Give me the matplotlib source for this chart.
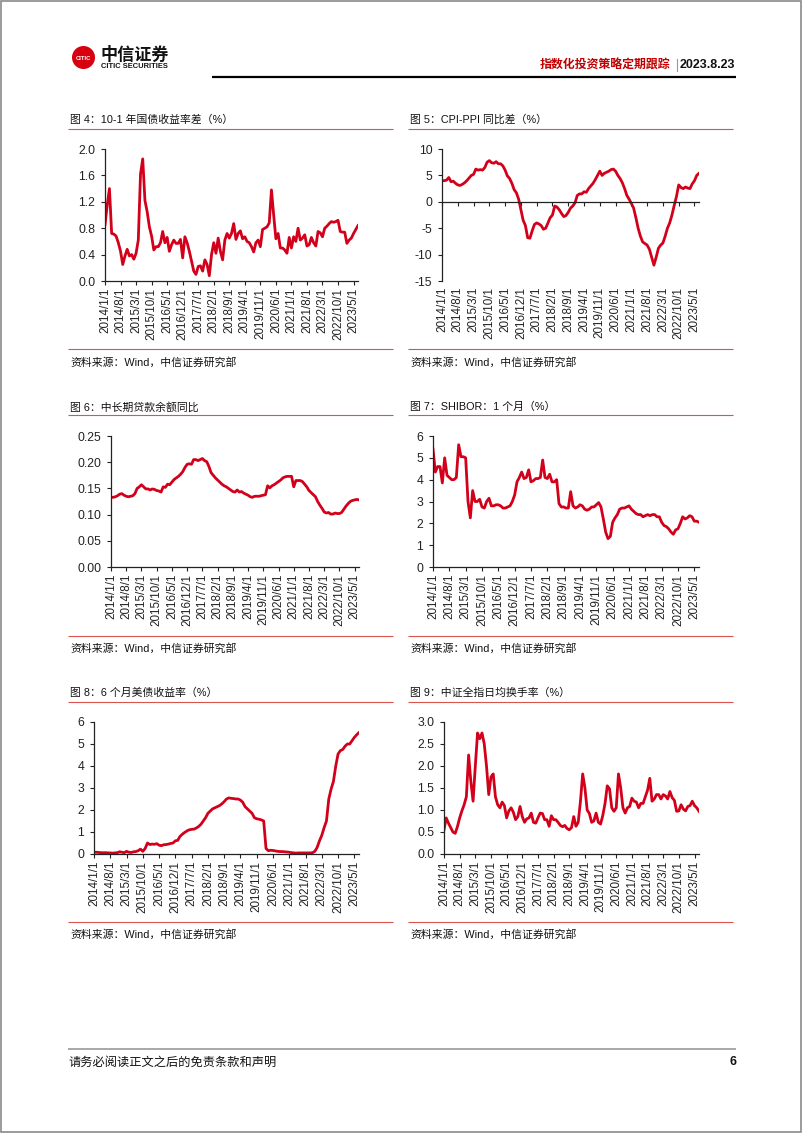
import matplotlib
matplotlib.use('Agg')
import matplotlib.pyplot as plt
from matplotlib.patches import Circle, Rectangle
import numpy as np

plt.rcParams['font.family'] = ['Liberation Sans', 'Noto Sans CJK SC', 'DejaVu Sans']

# ---------------- data ----------------
# monthly points, 2014/1 ... 2023/7 (115 months)
n_months = 115
tick_pos = list(range(0, 113, 7))
tick_labels = ['2014/1/1', '2014/8/1', '2015/3/1', '2015/10/1', '2016/5/1', '2016/12/1',
               '2017/7/1', '2018/2/1', '2018/9/1', '2019/4/1', '2019/11/1', '2020/6/1',
               '2021/1/1', '2021/8/1', '2022/3/1', '2022/10/1', '2023/5/1']

spread_10_1 = [
    0.85, 1.15, 1.40, 0.72, 0.71, 0.68, 0.58, 0.45, 0.25, 0.38, 0.48, 0.38,
    0.40, 0.33, 0.42, 0.62, 1.62, 1.85, 1.22, 1.05, 0.82, 0.68, 0.47, 0.52,
    0.52, 0.58, 0.75, 0.58, 0.66, 0.45, 0.55, 0.62, 0.57, 0.57, 0.63, 0.35,
    0.67, 0.58, 0.45, 0.30, 0.15, 0.10, 0.22, 0.23, 0.15, 0.32, 0.25, 0.08,
    0.40, 0.58, 0.42, 0.65, 0.45, 0.32, 0.62, 0.72, 0.65, 0.72, 0.87, 0.63,
    0.72, 0.76, 0.64, 0.67, 0.60, 0.58, 0.52, 0.44, 0.58, 0.62, 0.52, 0.78,
    0.80, 0.82, 0.88, 1.38, 1.00, 0.64, 0.72, 0.50, 0.50, 0.47, 0.42, 0.66,
    0.50, 0.67, 0.60, 0.80, 0.62, 0.65, 0.70, 0.53, 0.55, 0.66, 0.58, 0.53,
    0.75, 0.73, 0.67, 0.80, 0.83, 0.87, 0.90, 0.89, 0.90, 0.92, 0.75, 0.74,
    0.74, 0.57, 0.62, 0.65, 0.72, 0.78, 0.84]

cpi_ppi = [
    4.0, 4.0, 4.1, 4.6, 3.8, 3.9, 3.5, 3.2, 3.1, 3.3, 3.6, 4.0,
    4.5, 5.0, 5.2, 6.2, 6.0, 6.1, 6.0, 6.5, 7.5, 7.8, 7.4, 7.3,
    7.6, 7.2, 7.2, 6.8, 6.0, 4.9, 4.4, 3.5, 2.3, 1.7, 0.5, -1.5,
    -3.5, -4.5, -6.8, -6.9, -5.5, -4.3, -4.0, -4.2, -4.5, -5.2, -5.0, -4.0,
    -3.0, -2.5, -0.8, -1.0, -1.5, -2.2, -2.8, -2.6, -2.0, -1.2, -0.8, -0.2,
    1.2, 1.5, 1.5, 1.9, 1.8, 2.5, 3.0, 3.5, 4.2, 5.0, 5.8, 5.0,
    5.4, 5.6, 5.8, 6.1, 6.2, 5.8, 5.0, 4.4, 3.6, 2.5, 1.2, 0.5,
    -0.3, -1.2, -3.0, -5.0, -6.5, -7.6, -7.9, -8.2, -9.0, -10.5, -12.0, -10.5,
    -8.8, -8.2, -7.8, -6.5, -5.0, -4.0, -2.5, -0.7, 1.0, 3.2, 2.7, 2.5,
    2.8, 2.6, 2.5, 3.4, 4.0, 5.0, 5.4]

loan_yoy = [
    0.133, 0.133, 0.134, 0.136, 0.139, 0.140, 0.137, 0.135, 0.134, 0.135, 0.136, 0.140,
    0.150, 0.153, 0.157, 0.153, 0.149, 0.149, 0.147, 0.149, 0.148, 0.146, 0.145, 0.143,
    0.153, 0.152, 0.158, 0.157, 0.162, 0.167, 0.170, 0.173, 0.177, 0.182, 0.190, 0.196,
    0.197, 0.196, 0.205, 0.205, 0.203, 0.205, 0.207, 0.203, 0.201, 0.192, 0.180, 0.175,
    0.170, 0.166, 0.162, 0.158, 0.155, 0.153, 0.150, 0.147, 0.144, 0.143, 0.147, 0.143,
    0.144, 0.141, 0.139, 0.137, 0.134, 0.133, 0.135, 0.135, 0.135, 0.136, 0.137, 0.138,
    0.155, 0.151, 0.155, 0.157, 0.160, 0.163, 0.166, 0.170, 0.172, 0.173, 0.173, 0.173,
    0.153, 0.165, 0.165, 0.165, 0.163, 0.158, 0.153, 0.146, 0.142, 0.138, 0.134, 0.125,
    0.118, 0.112, 0.105, 0.103, 0.104, 0.101, 0.101, 0.103, 0.102, 0.102, 0.104, 0.110,
    0.116, 0.121, 0.125, 0.127, 0.128, 0.129, 0.128]

shibor_1m = [
    5.40, 4.35, 4.60, 4.60, 3.85, 5.00, 4.20, 4.10, 4.00, 4.00, 4.10, 5.60,
    5.05, 5.05, 5.00, 3.00, 2.25, 3.50, 3.00, 3.00, 3.10, 2.75, 2.70, 3.00,
    3.15, 2.80, 2.80, 2.85, 2.85, 2.80, 2.70, 2.70, 2.75, 2.80, 3.00, 3.30,
    3.90, 4.10, 4.35, 4.05, 4.10, 4.45, 3.90, 3.95, 4.05, 4.05, 4.10, 4.90,
    4.10, 4.05, 4.25, 3.90, 3.90, 4.00, 2.90, 2.75, 2.75, 2.70, 2.70, 3.45,
    2.80, 2.70, 2.75, 2.85, 2.80, 2.65, 2.60, 2.65, 2.75, 2.75, 2.85, 2.95,
    2.75, 2.20, 1.60, 1.30, 1.40, 2.05, 2.25, 2.40, 2.65, 2.70, 2.70, 2.75,
    2.80, 2.65, 2.55, 2.45, 2.40, 2.40, 2.30, 2.35, 2.40, 2.35, 2.40, 2.40,
    2.30, 2.30, 2.05, 1.90, 1.85, 1.75, 1.60, 1.50, 1.70, 1.75, 2.00, 2.30,
    2.20, 2.25, 2.35, 2.30, 2.10, 2.10, 2.05]

us_6m = [
    0.08, 0.08, 0.07, 0.06, 0.06, 0.06, 0.05, 0.05, 0.04, 0.05, 0.06, 0.10,
    0.08, 0.06, 0.12, 0.08, 0.07, 0.10, 0.11, 0.15, 0.22, 0.12, 0.25, 0.50,
    0.43, 0.45, 0.44, 0.47, 0.40, 0.38, 0.42, 0.43, 0.45, 0.48, 0.50, 0.60,
    0.62, 0.80, 0.90, 0.98, 1.05, 1.10, 1.12, 1.13, 1.18, 1.25, 1.35, 1.50,
    1.65, 1.85, 1.95, 2.05, 2.10, 2.15, 2.20, 2.28, 2.38, 2.50, 2.55, 2.53,
    2.52, 2.50, 2.50, 2.45, 2.35, 2.15, 2.05, 1.95, 1.85, 1.65, 1.60, 1.58,
    1.55, 1.50, 0.25, 0.15, 0.17, 0.16, 0.14, 0.12, 0.11, 0.11, 0.10, 0.09,
    0.08, 0.06, 0.05, 0.04, 0.05, 0.05, 0.05, 0.05, 0.05, 0.05, 0.06, 0.12,
    0.30, 0.60, 0.85, 1.20, 1.50, 2.50, 2.95, 3.30, 4.00, 4.55, 4.70, 4.75,
    4.90, 5.00, 5.00, 5.15, 5.30, 5.42, 5.52]

turnover = [
    0.55, 0.82, 0.70, 0.60, 0.50, 0.47, 0.62, 0.82, 0.98, 1.12, 1.30, 2.25,
    1.65, 1.20, 2.00, 2.75, 2.62, 2.75, 2.50, 2.00, 1.35, 1.75, 1.82, 1.30,
    1.12, 1.05, 1.18, 1.10, 0.82, 0.98, 1.05, 0.95, 0.78, 0.85, 1.08, 0.85,
    0.72, 0.80, 0.82, 0.93, 0.72, 0.70, 0.82, 0.93, 0.92, 0.78, 0.78, 0.63,
    0.87, 0.78, 0.78, 0.72, 0.65, 0.62, 0.65, 0.58, 0.55, 0.60, 0.85, 0.63,
    0.72, 1.20, 1.82, 1.50, 1.00, 0.92, 0.72, 0.75, 0.93, 0.72, 0.68, 0.88,
    1.15, 1.55, 1.48, 1.05, 0.97, 1.05, 1.82, 1.50, 1.05, 0.93, 1.05, 1.08,
    1.27, 1.20, 1.18, 1.05, 1.15, 1.15, 1.30, 1.45, 1.72, 1.20, 1.25, 1.35,
    1.35, 1.25, 1.35, 1.32, 1.25, 1.42, 1.28, 1.22, 0.97, 0.98, 1.12, 1.02,
    0.98, 1.08, 1.10, 1.20, 1.10, 1.05, 0.97]

titles = ['图 4：10-1 年国债收益率差（%）', '图 5：CPI-PPI 同比差（%）',
          '图 6：中长期贷款余额同比', '图 7：SHIBOR：1 个月（%）',
          '图 8：6 个月美债收益率（%）', '图 9：中证全指日均换手率（%）']
source_text = '资料来源：Wind，中信证券研究部'

# ---------------- layout ----------------
W, H = 802, 1133
RED = '#D2001A'
TITLE_RED = '#D9534F'
CJK = ['Noto Sans CJK SC', 'DejaVu Sans']
MIX = ['Liberation Sans', 'Noto Sans CJK SC', 'DejaVu Sans']

fig = plt.figure(figsize=(W / 100, H / 100), dpi=100)
bg = fig.add_axes([0, 0, 1, 1])
bg.set_xlim(0, W)
bg.set_ylim(H, 0)
bg.axis('off')

# page border
bg.add_patch(Rectangle((0.8, 0.8), W - 1.6, H - 1.6, fill=False, edgecolor='#8a8a8a', lw=1.2))

# header logo
bg.add_patch(Circle((83.5, 57.5), 10.8, color='#D7000F'))
bg.text(83.5, 58, 'CITIC', color='white', fontsize=4.2, fontweight='bold',
        ha='center', va='center', family=['Liberation Sans Narrow', 'Liberation Sans'])
bg.text(100, 54.5, '中信证券', fontsize=12.3, fontweight='bold', family=CJK,
        ha='left', va='center', color='#111111')
bg.text(101, 66.5, 'CITIC SECURITIES', fontsize=5.4, fontweight='bold',
        family=['Liberation Sans Narrow', 'Liberation Sans'], ha='left', va='center', color='#111111')
bg.text(540, 65, '指数化投资策略定期跟踪', fontsize=8.6, fontweight='bold', family=CJK,
        color='#C00000', ha='left', va='center')
bg.plot([677, 677], [59, 71], color='#999999', lw=0.8)
bg.text(735, 65, '2023.8.23', fontsize=9, fontweight='bold', ha='right', va='center', color='#111111')
bg.plot([212, 736], [76.5, 76.5], color='black', lw=1.6, solid_capstyle='butt')

# footer
bg.plot([68, 736], [1049, 1049], color='#a8a8a8', lw=1.4, solid_capstyle='butt')
bg.text(68, 1062, '请务必阅读正文之后的免责条款和声明', fontsize=8.8, family=CJK,
        ha='left', va='center', color='#111111')
bg.text(736, 1062, '6', fontsize=9, fontweight='bold', ha='right', va='center', color='#111111')

panels = [
    dict(box=(105, 149, 358, 281), data=spread_10_1, ylim=(0, 2.0), step=0.4, fmt='{:.1f}', zero=False),
    dict(box=(442, 149, 699, 281), data=cpi_ppi, ylim=(-15, 10), step=5, fmt='{:.0f}', zero=True),
    dict(box=(111, 436, 359, 567), data=loan_yoy, ylim=(0, 0.25), step=0.05, fmt='{:.2f}', zero=False),
    dict(box=(433, 436, 699, 567), data=shibor_1m, ylim=(0, 6), step=1, fmt='{:.0f}', zero=False),
    dict(box=(94, 722, 359, 854), data=us_6m, ylim=(0, 6), step=1, fmt='{:.0f}', zero=False),
    dict(box=(444, 722, 699, 854), data=turnover, ylim=(0, 3.0), step=0.5, fmt='{:.1f}', zero=False),
]
title_y = [120, 120, 407, 407, 693, 693]
tline_y = [129, 129, 415, 415, 702, 702]
sline_y = [349, 349, 636, 636, 922, 922]
stext_y = [362, 362, 648, 648, 934, 934]
col_x = [(70, 393), (410, 733)]

x = np.arange(n_months)
for i, p in enumerate(panels):
    l, t, r, b = p['box']
    ax = fig.add_axes([l / W, 1 - b / H, (r - l) / W, (b - t) / H])
    ax.patch.set_alpha(0)
    ax.plot(x, p['data'], color=RED, lw=2.0, solid_joinstyle='round')
    ax.set_xlim(0, n_months - 1)
    lo, hi = p['ylim']
    ax.set_ylim(lo, hi)
    yt = np.arange(lo, hi + p['step'] / 2, p['step'])
    ax.set_yticks(yt, labels=[p['fmt'].format(v) for v in yt])
    for s in ('top', 'right'):
        ax.spines[s].set_visible(False)
    for s in ('left', 'bottom'):
        ax.spines[s].set_linewidth(0.9)
        ax.spines[s].set_color('#222222')
    ax.tick_params(axis='y', length=3, width=0.8, pad=4, labelsize=8.8, colors='#222222')
    ax.set_xticks(tick_pos)
    if p['zero']:
        ax.spines['bottom'].set_position(('data', 0))
        ax.tick_params(axis='x', length=3, width=0.8, labelbottom=False, colors='#222222')
        sec = ax.secondary_xaxis('bottom')
        sec.set_xticks(tick_pos, labels=tick_labels)
        sec.tick_params(length=0, pad=4, labelsize=8.4, labelrotation=90, colors='#222222')
        sec.spines['bottom'].set_visible(False)
    else:
        ax.set_xticklabels(tick_labels)
        ax.tick_params(axis='x', length=3, width=0.8, pad=2, labelsize=8.4,
                       labelrotation=90, colors='#222222')

    x0, x1 = col_x[i % 2]
    bg.text(x0, title_y[i], titles[i], fontsize=7.8, family=MIX, ha='left', va='center', color='#111111')
    bg.plot([x0 - 2, x1], [tline_y[i]] * 2, color=TITLE_RED, lw=0.8, solid_capstyle='butt')
    bg.plot([x0 - 2, x1], [sline_y[i]] * 2, color=TITLE_RED, lw=0.8, solid_capstyle='butt')
    bg.text(x0, stext_y[i], source_text, fontsize=7.8, family=MIX, ha='left', va='center', color='#111111')

fig.savefig('out.png', dpi=100)
